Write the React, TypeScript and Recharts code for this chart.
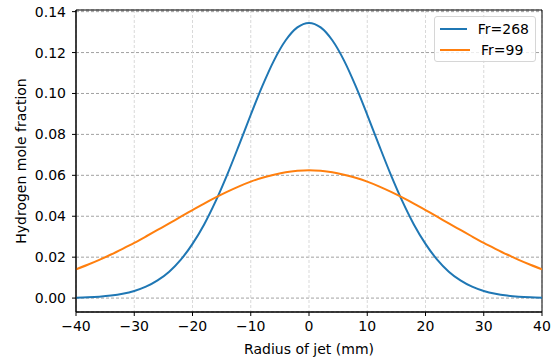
import React from 'react';
import { LineChart, Line, XAxis, YAxis, CartesianGrid, ReferenceArea, Label } from 'recharts';

// radius positions (mm)
const radius = [
  -40, -38, -36, -34, -32, -30, -28, -26, -24, -22, -20, -18, -16, -14, -12, -10, -8, -6, -4, -2,
  0, 2, 4, 6, 8, 10, 12, 14, 16, 18, 20, 22, 24, 26, 28, 30, 32, 34, 36, 38, 40,
];

const fr268 = [
  0.0002, 0.00038, 0.00069, 0.00122, 0.00209, 0.00346, 0.00556, 0.00862, 0.0129, 0.0188,
  0.0265, 0.036, 0.0475, 0.0606, 0.0749, 0.0896, 0.1037, 0.1162, 0.126, 0.1323,
  0.1345,
  0.1323, 0.126, 0.1162, 0.1037, 0.0896, 0.0749, 0.0606, 0.0475, 0.036, 0.0265,
  0.0188, 0.0129, 0.00862, 0.00556, 0.00346, 0.00209, 0.00122, 0.00069, 0.00038, 0.0002,
];

const fr99 = [
  0.0141, 0.0163, 0.0187, 0.0213, 0.0241, 0.027, 0.0301, 0.0333, 0.0365, 0.0398,
  0.043, 0.0462, 0.0492, 0.052, 0.0546, 0.0569, 0.0588, 0.0603, 0.0615, 0.0622,
  0.0625,
  0.0622, 0.0615, 0.0603, 0.0588, 0.0569, 0.0546, 0.052, 0.0492, 0.0462, 0.043,
  0.0398, 0.0365, 0.0333, 0.0301, 0.027, 0.0241, 0.0213, 0.0187, 0.0163, 0.0141,
];

const xTicks = [-40, -30, -20, -10, 0, 10, 20, 30, 40];
const yTicks = [0, 0.02, 0.04, 0.06, 0.08, 0.1, 0.12, 0.14];

const series = [
  { key: 'fr268', name: 'Fr=268', color: '#1f77b4' },
  { key: 'fr99', name: 'Fr=99', color: '#ff7f0e' },
];

const data = radius.map((r, i) => ({ r, fr268: fr268[i], fr99: fr99[i] }));

const LegendBox = () => (
  <div
    style={{
      position: 'absolute',
      left: 434,
      top: 16,
      width: 102,
      height: 46,
      boxSizing: 'border-box',
      background: 'rgba(255,255,255,0.8)',
      border: '1px solid #d6d6d6',
      borderRadius: 3,
      padding: '2px 6px 2px 5px',
      fontSize: 14,
      color: '#000',
    }}
  >
    {series.map(s => (
      <div key={s.key} style={{ display: 'flex', alignItems: 'center', height: 20.5 }}>
        <svg width={30} height={4} style={{ marginRight: 11 }}>
          <line x1={0} y1={2} x2={30} y2={2} stroke={s.color} strokeWidth={2} />
        </svg>
        <span>{s.name}</span>
      </div>
    ))}
  </div>
);

export default function App() {
  return (
    <div style={{ position: 'absolute', left: 0, top: 0, width: 556, height: 358, background: '#fff', fontFamily: '"DejaVu Sans", sans-serif' }}>
      <LineChart width={556} height={358} data={data} margin={{ top: 10, right: 14, left: 0, bottom: 0 }}>
        <CartesianGrid vertical={false} stroke="#8a8a8a" strokeDasharray="3 2" strokeWidth={0.8} />
        <CartesianGrid horizontal={false} stroke="#cfcfcf" strokeDasharray="3 2" strokeWidth={0.8} />
        <XAxis
          dataKey="r"
          type="number"
          domain={[-40, 40]}
          ticks={xTicks}
          allowDataOverflow
          height={46}
          tickSize={4}
          tickMargin={5}
          stroke="#000"
          tick={{ fontSize: 14, fill: '#000' }}
          tickFormatter={(v: number) => (v < 0 ? '\u2212' + Math.abs(v) : String(v))}
        >
          <Label value="Radius of jet (mm)" position="insideBottom" offset={4} style={{ fontSize: 14, fill: '#000' }} />
        </XAxis>
        <YAxis
          type="number"
          domain={[-0.0068, 0.1408]}
          ticks={yTicks}
          allowDataOverflow
          width={76}
          tickSize={4}
          tickMargin={6}
          stroke="#000"
          tick={{ fontSize: 14, fill: '#000' }}
          tickFormatter={(v: number) => v.toFixed(2)}
        >
          <Label value="Hydrogen mole fraction" position="insideLeft" angle={-90} offset={21} style={{ fontSize: 14, fill: '#000', textAnchor: 'middle' }} />
        </YAxis>
        <ReferenceArea x1={-40} x2={40} y1={-0.0068} y2={0.1408} fill="none" stroke="#000" strokeWidth={1} />
        {series.map(s => (
          <Line key={s.key} type="monotone" dataKey={s.key} name={s.name} stroke={s.color} strokeWidth={2} dot={false} isAnimationActive={false} />
        ))}
      </LineChart>
      <LegendBox />
    </div>
  );
}
